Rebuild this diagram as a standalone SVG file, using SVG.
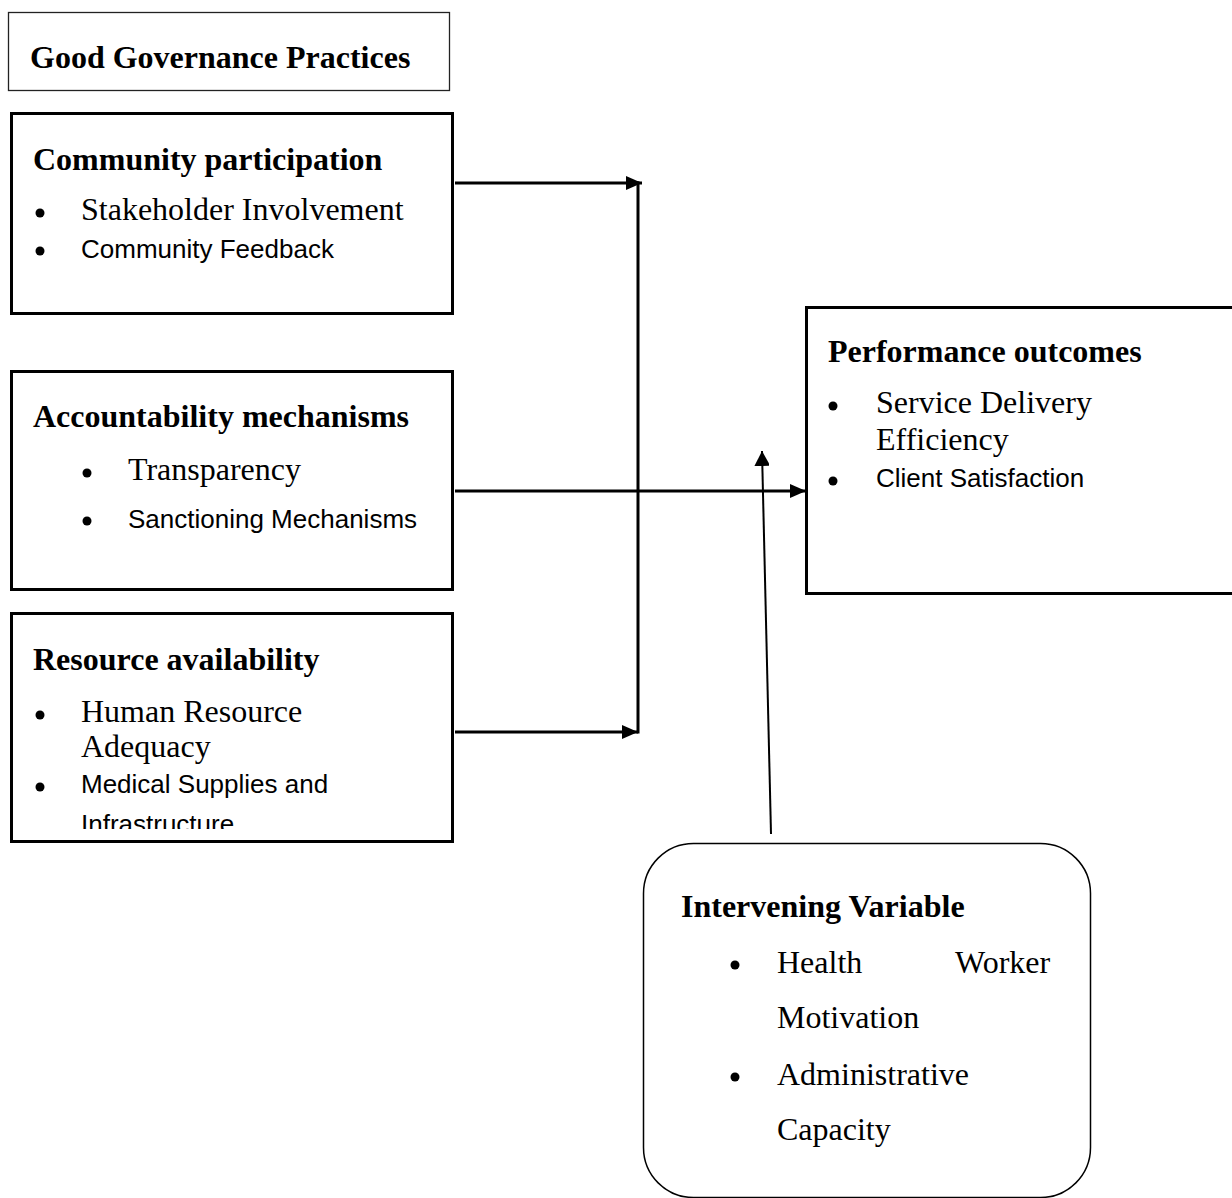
<svg xmlns="http://www.w3.org/2000/svg" width="1232" height="1198" viewBox="0 0 1232 1198">
<style>
.box{fill:#fff;stroke:#000;stroke-width:3}
.thin{fill:#fff;stroke:#222;stroke-width:1.3}
.hd{font-family:"Liberation Serif","Times New Roman",serif;font-weight:bold;font-size:32px;fill:#000}
.sr{font-family:"Liberation Serif","Times New Roman",serif;font-size:32px;fill:#000}
.ss{font-family:"Liberation Sans",Arial,sans-serif;font-size:26px;fill:#000}
.dot{fill:#000}
.con{fill:none;stroke:#000;stroke-width:3}
.up{fill:none;stroke:#000;stroke-width:2}
</style>
<defs>
<marker id="ah" viewBox="0 0 16 14" refX="16" refY="7" markerWidth="16" markerHeight="14" markerUnits="userSpaceOnUse" orient="auto">
<path d="M0,0 L16,7 L0,14 z" fill="#000"/>
</marker>
<marker id="ahs" viewBox="0 0 16 15" refX="15" refY="8" markerWidth="16" markerHeight="15" markerUnits="userSpaceOnUse" orient="auto">
<path d="M0,0 L15,8 L0,16 z" fill="#000"/>
</marker>
<clipPath id="c3"><rect x="10" y="612" width="443" height="217"/></clipPath>
</defs>
<rect width="1232" height="1198" fill="#fff"/>

<g id="title">
<rect class="thin" x="8.5" y="12.5" width="441" height="78"/>
<text class="hd" x="30" y="68">Good Governance Practices</text>
</g>

<g id="community">
<rect class="box" x="11.5" y="113.5" width="441" height="200"/>
<text class="hd" x="33" y="170">Community participation</text>
<circle class="dot" cx="40" cy="213" r="4.5"/>
<text class="sr" x="81" y="220">Stakeholder Involvement</text>
<circle class="dot" cx="40" cy="251" r="4.5"/>
<text class="ss" x="81" y="258">Community Feedback</text>
</g>

<g id="accountability">
<rect class="box" x="11.5" y="371.5" width="441" height="218"/>
<text class="hd" x="33" y="427">Accountability mechanisms</text>
<circle class="dot" cx="87" cy="473" r="4.5"/>
<text class="sr" x="128" y="480">Transparency</text>
<circle class="dot" cx="87" cy="521" r="4.5"/>
<text class="ss" x="128" y="528">Sanctioning Mechanisms</text>
</g>

<g id="resource">
<rect class="box" x="11.5" y="613.5" width="441" height="228"/>
<text class="hd" x="33" y="670">Resource availability</text>
<circle class="dot" cx="40" cy="715" r="4.5"/>
<text class="sr" x="81" y="722">Human Resource</text>
<text class="sr" x="81" y="757">Adequacy</text>
<circle class="dot" cx="40" cy="787" r="4.5"/>
<text class="ss" x="81" y="793">Medical Supplies and</text>
<text class="ss" x="81" y="833" clip-path="url(#c3)">Infrastructure</text>
</g>

<g id="performance">
<rect class="box" x="806.5" y="307.5" width="440" height="286"/>
<text class="hd" x="828" y="362">Performance outcomes</text>
<circle class="dot" cx="833" cy="406" r="4.5"/>
<text class="sr" x="876" y="413">Service Delivery</text>
<text class="sr" x="876" y="450">Efficiency</text>
<circle class="dot" cx="833" cy="481" r="4.5"/>
<text class="ss" x="876" y="487">Client Satisfaction</text>
</g>

<g id="intervening">
<rect x="643.5" y="843.5" width="447" height="354" rx="50" ry="50" fill="#fff" stroke="#000" stroke-width="1.5"/>
<text class="hd" x="681" y="917">Intervening Variable</text>
<circle class="dot" cx="735" cy="965" r="4.5"/>
<text class="sr" y="973"><tspan x="777">Health</tspan><tspan x="955">Worker</tspan></text>
<text class="sr" x="777" y="1028">Motivation</text>
<circle class="dot" cx="735" cy="1077" r="4.5"/>
<text class="sr" x="777" y="1085">Administrative</text>
<text class="sr" x="777" y="1140">Capacity</text>
</g>

<g id="connectors">
<line class="con" x1="455" y1="183" x2="642" y2="183" marker-end="url(#ah)"/>
<line class="con" x1="638" y1="181.5" x2="638" y2="733.5"/>
<line class="con" x1="455" y1="732" x2="638" y2="732" marker-end="url(#ah)"/>
<line class="con" x1="455" y1="491" x2="806" y2="491" marker-end="url(#ah)"/>
<line class="up" x1="771" y1="834" x2="762" y2="451" marker-end="url(#ahs)"/>
</g>
</svg>
